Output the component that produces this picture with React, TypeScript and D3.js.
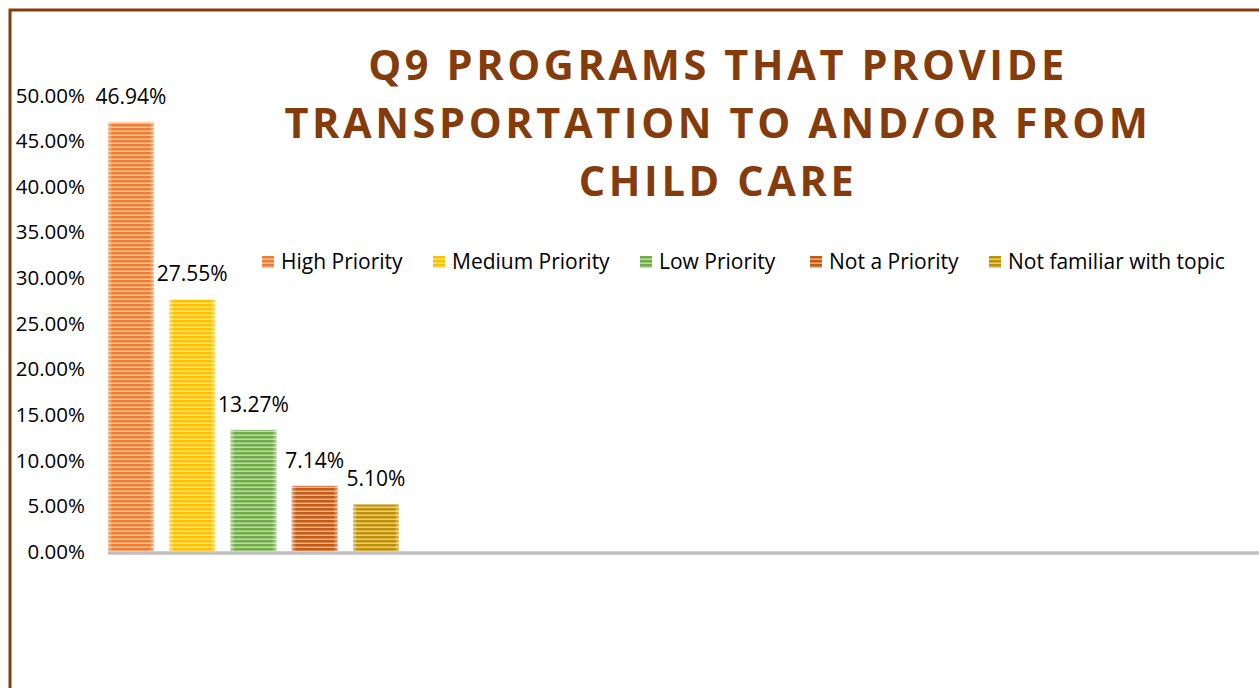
import React from "react";
import * as d3 from "d3";

const categories = ["High Priority", "Medium Priority", "Low Priority", "Not a Priority", "Not familiar with topic"];
const values = [46.94, 27.55, 13.27, 7.14, 5.1];
const yTicks = [0, 5, 10, 15, 20, 25, 30, 35, 40, 45, 50];
const titleLines = ["Q9 PROGRAMS THAT PROVIDE", "TRANSPORTATION TO AND/OR FROM", "CHILD CARE"];

const palette = ["#ED7D31", "#FFC000", "#70AD47", "#C55A11", "#BF9000"];
const BROWN = "#843C0C";

const W = 1259;
const H = 688;
const legendX = [262, 433, 640, 810, 989];

export default function App() {
  const y = d3.scaleLinear().domain([0, 50]).range([551, 94.5]);
  const x = d3
    .scaleBand<string>()
    .domain(categories)
    .range([108, 108 + 61.25 * 4.75])
    .paddingInner(0.25)
    .paddingOuter(0)
    .align(0);
  const bw = x.bandwidth();
  const font = "'Open Sans', sans-serif";

  return (
    <svg
      width={W}
      height={H}
      style={{ position: "absolute", left: 0, top: 0, background: "#fff" }}
      fontFamily={font}
    >
      <defs>
        {palette.map((c, i) => (
          <pattern key={i} id={`stripe${i}`} width={8} height={4} patternUnits="userSpaceOnUse" y={0}>
            <rect width={8} height={4} fill={c} />
            <rect y={2.5} width={8} height={1.5} fill="#fff" opacity={0.55} />
          </pattern>
        ))}
        <linearGradient id="edge" x1="0" x2="1" y1="0" y2="0">
          <stop offset="0" stopColor="#fff" stopOpacity={0.45} />
          <stop offset="0.1" stopColor="#fff" stopOpacity={0} />
          <stop offset="0.9" stopColor="#fff" stopOpacity={0} />
          <stop offset="1" stopColor="#fff" stopOpacity={0.45} />
        </linearGradient>
      </defs>

      <rect x={10} y={10} width={W + 20} height={H + 20} fill="none" stroke={BROWN} strokeWidth={3} />

      {titleLines.map((t, i) => (
        <text
          key={i}
          x={718}
          y={80 + i * 58}
          textAnchor="middle"
          fontSize={41.5}
          fontWeight={700}
          fill={BROWN}
          letterSpacing={3.6}
        >
          {t}
        </text>
      ))}

      {yTicks.map((t) => (
        <text key={t} x={85} y={y(t) + 8} textAnchor="end" fontSize={20.5} fill="#000">
          {t.toFixed(2)}%
        </text>
      ))}

      {categories.map((c, i) => (
        <g key={c}>
          <rect x={x(c)} y={y(values[i])} width={bw} height={y(0) - y(values[i])} fill={`url(#stripe${i})`} />
          <rect x={x(c)} y={y(values[i])} width={bw} height={y(0) - y(values[i])} fill="url(#edge)" />
          <text x={(x(c) as number) + bw / 2} y={y(values[i]) - 18} textAnchor="middle" fontSize={21} fill="#000">
            {values[i].toFixed(2)}%
          </text>
        </g>
      ))}

      <line x1={108} x2={W} y1={553} y2={553} stroke="#BFBFBF" strokeWidth={3.5} />

      {categories.map((c, i) => (
        <g key={c} transform={`translate(${legendX[i]},256)`}>
          <rect width={12} height={12} fill={`url(#stripe${i})`} />
          <text x={19} y={12.5} fontSize={21} fill="#000">
            {c}
          </text>
        </g>
      ))}
    </svg>
  );
}
